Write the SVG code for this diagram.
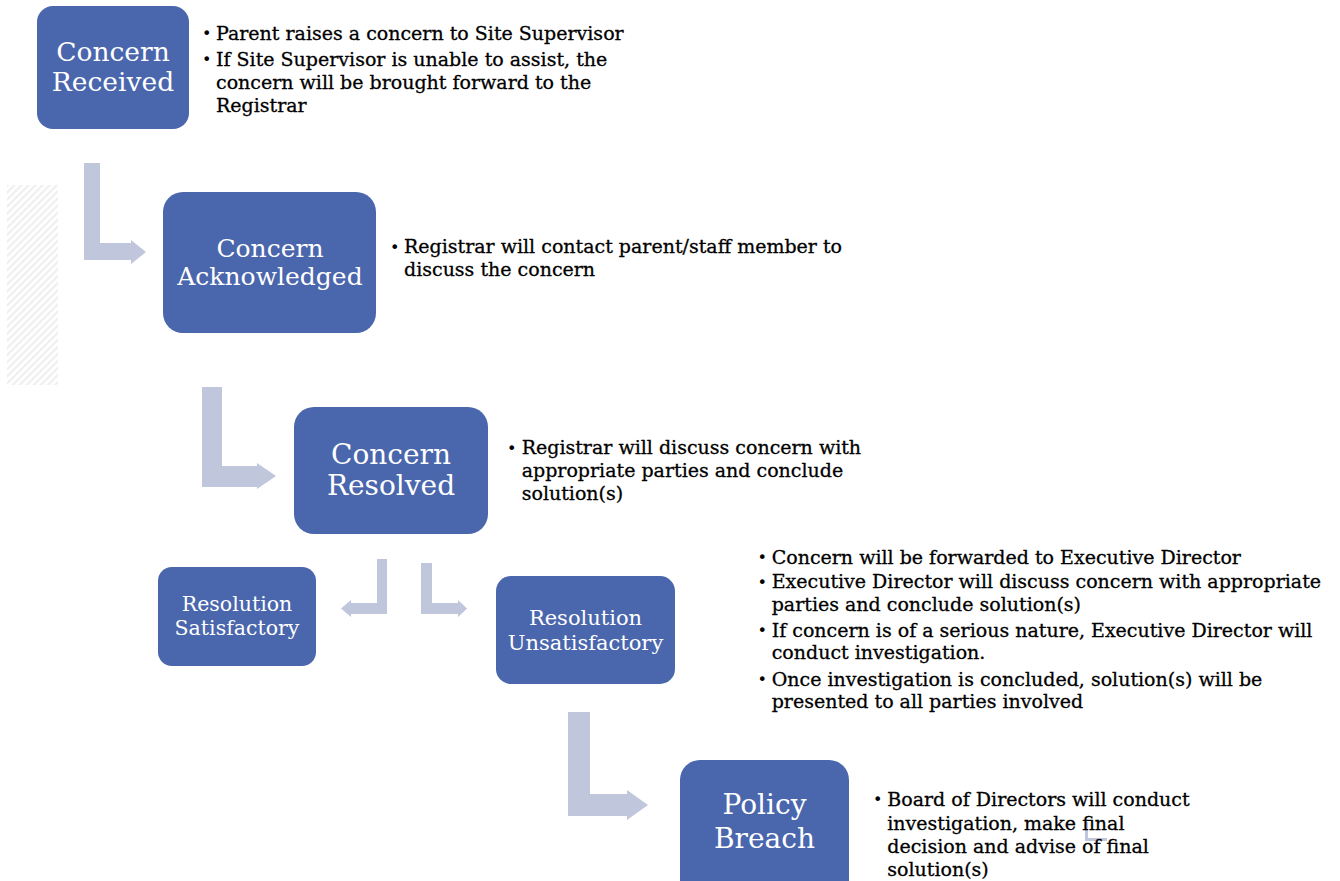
<svg xmlns="http://www.w3.org/2000/svg" width="1340" height="881" viewBox="0 0 1340 881">
<style>
.node{fill:#4A66AC}
.nt{fill:#FFFFFF;font-family:"DejaVu Serif","Liberation Serif",serif;text-anchor:middle}
.bt{fill:#000000;stroke:#000000;stroke-width:0.3;font-family:"DejaVu Serif","Liberation Serif",serif;font-size:19px}
.bu{fill:#000000;font-family:"DejaVu Sans","Liberation Sans",sans-serif;font-size:16px}
.arr{fill:#C0C6DC}
</style>
<defs>
<pattern id="hatch" patternUnits="userSpaceOnUse" width="5" height="5" patternTransform="rotate(45)">
<rect width="5" height="5" fill="#FFFFFF"/>
<rect width="2.2" height="5" fill="#EFEFEF"/>
</pattern>
</defs>
<rect width="1340" height="881" fill="#FFFFFF"/>
<rect x="7" y="185" width="51" height="200" fill="url(#hatch)"/>

<g id="connectors">
<polygon class="arr" points="84,163 100,163 100,243 131,243 131,240 146,252 131,264 131,260 84,260"/>
<polygon class="arr" points="202,387 222,387 222,466 257,466 257,463 276,476 257,489 257,487 202,487"/>
<polygon class="arr" points="377,559 387,559 387,614 351,614 351,617 341,608.5 351,600 351,603 377,603"/>
<polygon class="arr" points="421,563 432,563 432,603 458,603 458,600 467,608.5 458,617 458,614 421,614"/>
<polygon class="arr" points="568,712 590,712 590,794 627,794 627,790 648,805 627,820 627,816 568,816"/>
<path d="M1086.5,822 L1086.5,839.5 L1107,839.5" fill="none" stroke="#C0C6DC" stroke-width="3"/>
</g>

<g id="node-concern-received">
<rect class="node" x="37" y="6" width="152" height="123" rx="16"/>
<text class="nt" x="113" y="61" font-size="26.5">Concern</text>
<text class="nt" x="113" y="91" font-size="26.5">Received</text>
</g>
<g id="text-concern-received">
<text class="bu" x="202" y="39">•</text>
<text class="bt" x="216" y="40">Parent raises a concern to Site Supervisor</text>
<text class="bu" x="202" y="65">•</text>
<text class="bt" x="216" y="65.7">If Site Supervisor is unable to assist, the</text>
<text class="bt" x="216" y="89.3">concern will be brought forward to the</text>
<text class="bt" x="216" y="111.7">Registrar</text>
</g>

<g id="node-concern-acknowledged">
<rect class="node" x="163" y="192" width="213" height="141" rx="20"/>
<text class="nt" x="270" y="257" font-size="25">Concern</text>
<text class="nt" x="270" y="284.5" font-size="25">Acknowledged</text>
</g>
<g id="text-concern-acknowledged">
<text class="bu" x="390" y="252.5">•</text>
<text class="bt" x="404" y="253.3">Registrar will contact parent/staff member to</text>
<text class="bt" x="404" y="276">discuss the concern</text>
</g>

<g id="node-concern-resolved">
<rect class="node" x="294" y="407" width="194" height="127" rx="20"/>
<text class="nt" x="391" y="464" font-size="28">Concern</text>
<text class="nt" x="391" y="495" font-size="28">Resolved</text>
</g>
<g id="text-concern-resolved">
<text class="bu" x="507" y="453.5">•</text>
<text class="bt" x="521.7" y="454.3">Registrar will discuss concern with</text>
<text class="bt" x="521.7" y="477.3">appropriate parties and conclude</text>
<text class="bt" x="521.7" y="500">solution(s)</text>
</g>

<g id="node-resolution-satisfactory">
<rect class="node" x="158" y="567" width="158" height="99" rx="14"/>
<text class="nt" x="237" y="611" font-size="20.5">Resolution</text>
<text class="nt" x="237" y="635" font-size="20.5">Satisfactory</text>
</g>

<g id="node-resolution-unsatisfactory">
<rect class="node" x="496" y="576" width="179" height="108" rx="15"/>
<text class="nt" x="585.5" y="625" font-size="21">Resolution</text>
<text class="nt" x="585.5" y="650" font-size="21">Unsatisfactory</text>
</g>
<g id="text-resolution-unsatisfactory">
<text class="bu" x="757.5" y="563">•</text>
<text class="bt" x="771.7" y="564">Concern will be forwarded to Executive Director</text>
<text class="bu" x="757.5" y="587.5">•</text>
<text class="bt" x="771.7" y="588.3">Executive Director will discuss concern with appropriate</text>
<text class="bt" x="771.7" y="611">parties and conclude solution(s)</text>
<text class="bu" x="757.5" y="636">•</text>
<text class="bt" x="771.7" y="636.7">If concern is of a serious nature, Executive Director will</text>
<text class="bt" x="771.7" y="659.3">conduct investigation.</text>
<text class="bu" x="757.5" y="685">•</text>
<text class="bt" x="771.7" y="685.7">Once investigation is concluded, solution(s) will be</text>
<text class="bt" x="771.7" y="707.7">presented to all parties involved</text>
</g>

<g id="node-policy-breach">
<rect class="node" x="680" y="760" width="169" height="140" rx="20"/>
<text class="nt" x="764.5" y="814" font-size="28">Policy</text>
<text class="nt" x="764.5" y="848" font-size="28">Breach</text>
</g>
<g id="text-policy-breach">
<text class="bu" x="873" y="805">•</text>
<text class="bt" x="887.3" y="806">Board of Directors will conduct</text>
<text class="bt" x="887.3" y="830">investigation, make final</text>
<text class="bt" x="887.3" y="852.7">decision and advise of final</text>
<text class="bt" x="887.3" y="876">solution(s)</text>
</g>
</svg>
